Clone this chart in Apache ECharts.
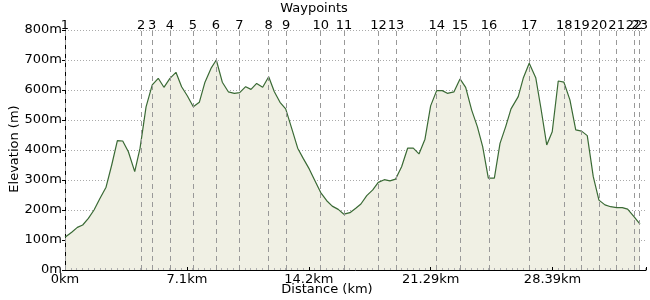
<!DOCTYPE html>
<html>
<head>
<meta charset="utf-8">
<script src="https://cdn.jsdelivr.net/npm/echarts@6/dist/echarts.min.js"></script>
<style>
  html, body { margin: 0; padding: 0; background: #fff; }
  #chart { width: 650px; height: 300px; }
</style>
</head>
<body>
<div id="chart"></div>
<script>
// elevation profile
var distKm = [0, 0.39, 0.72, 1.03, 1.36, 1.69, 2.04, 2.39, 2.72, 3.05, 3.36, 3.69, 4.06, 4.37, 4.72,
	5.08, 5.43, 5.76, 6.11, 6.46, 6.79, 7.12, 7.47, 7.82, 8.15, 8.50, 8.81, 9.16, 9.51, 9.86,
	10.17, 10.52, 10.83, 11.16, 11.51, 11.86, 12.19, 12.52, 12.85, 13.20, 13.55, 13.87, 14.22,
	14.56, 14.89, 15.24, 15.56, 15.91, 16.24, 16.59, 16.93, 17.23, 17.57, 17.92, 18.24, 18.59,
	18.92, 19.25, 19.60, 19.95, 20.28, 20.61, 20.96, 21.29, 21.64, 21.97, 22.26, 22.65, 23.00,
	23.33, 23.68, 24.01, 24.32, 24.65, 25.00, 25.33, 25.66, 25.97, 26.39, 26.68, 27.03, 27.41,
	27.71, 28.05, 28.37, 28.72, 29.05, 29.40, 29.74, 30.08, 30.41, 30.76, 31.09, 31.44, 31.77,
	32.12, 32.45, 32.76, 33.13, 33.48];
var elevM = [109, 126, 142, 150, 172, 200, 239, 276, 350, 431, 430, 394, 328, 406, 544,
	617, 639, 609, 639, 659, 611, 581, 544, 559, 626, 672, 700, 626, 594, 589,
	591, 611, 602, 622, 609, 644, 594, 559, 537, 472, 406, 372, 337,
	297, 258, 231, 213, 202, 186, 191, 206, 220, 248, 267, 292, 301,
	297, 303, 344, 406, 406, 387, 436, 547, 598, 598, 589, 594, 637,
	609, 533, 478, 411, 306, 306, 422, 478, 537, 578, 639, 689, 641,
	540, 417, 461, 630, 626, 567, 467, 463, 448, 311, 233, 217, 211,
	208, 208, 203, 178, 153];

var waypointKm = [0, 4.43, 5.08, 6.11, 7.44, 8.79, 10.15, 11.86, 12.87, 14.89, 16.24, 18.26,
	19.27, 21.64, 23.00, 24.69, 27.03, 29.07, 30.08, 31.09, 32.12, 33.13, 33.46];
var waypointNames = ['1', '2', '3', '4', '5', '6', '7', '8', '9', '10', '11', '12',
	'13', '14', '15', '16', '17', '18', '19', '20', '21', '22', '23'];

var xTickLabels = ['0km', '7.1km', '14.2km', '21.29km', '28.39km'];
var xTickStep = 7.0975;

var FONT = 'DejaVu Sans';

var chart = echarts.init(document.getElementById('chart'));

var profile = distKm.map(function (d, i) { return [d, elevM[i]]; });
var marks = waypointKm.map(function (km, i) {
	return { xAxis: km, name: waypointNames[i] };
});

var option = {
	animation: false,
	grid: { left: 65, top: 30, width: 581, height: 240 },
	graphic: [
		{ type: 'text', x: 314, y: 9, style: { text: 'Waypoints', font: '13px "DejaVu Sans"', fill: '#000', textAlign: 'center', textVerticalAlign: 'middle' } },
		{ type: 'text', x: 327, y: 290, style: { text: 'Distance (km)', font: '13px "DejaVu Sans"', fill: '#000', textAlign: 'center', textVerticalAlign: 'middle' } },
		{ type: 'text', x: 15, y: 149, rotation: Math.PI / 2, style: { text: 'Elevation (m)', font: '13px "DejaVu Sans"', fill: '#000', textAlign: 'center', textVerticalAlign: 'middle' } }
	],
	xAxis: {
		type: 'value',
		min: 0,
		max: 33.83,
		interval: xTickStep,
		z: 3,
		axisLine: { lineStyle: { color: '#000', width: 1 } },
		axisTick: { show: true, length: 3, inside: true, lineStyle: { color: '#000' } },
		minorTick: { show: true, splitNumber: 21, length: 2, lineStyle: { color: '#b0b0b0' } },
		splitLine: { show: false },
		axisLabel: {
			margin: 3,
			showMaxLabel: false,
			fontFamily: FONT, fontSize: 13, color: '#000',
			formatter: function (v) {
				var i = Math.round(v / xTickStep);
				if (Math.abs(v - i * xTickStep) < 0.01 && xTickLabels[i]) return xTickLabels[i];
				return '';
			}
		}
	},
	yAxis: {
		type: 'value',
		min: 0,
		max: 800,
		interval: 100,
		z: 3,
		axisLine: { show: true, lineStyle: { color: '#000', width: 1 } },
		axisTick: { show: true, length: 3, lineStyle: { color: '#000' } },
		splitLine: { show: true, lineStyle: { color: '#aaa', type: [1, 2], width: 1 } },
		axisLabel: {
			margin: 3,
			fontFamily: FONT, fontSize: 13, color: '#000',
			formatter: '{value}m'
		}
	},
	series: [{
		type: 'line',
		data: profile,
		symbol: 'none',
		lineStyle: { color: '#3a6a35', width: 1.2 },
		areaStyle: { color: '#f0f0e4', opacity: 1 },
		markLine: {
			silent: true,
			symbol: 'none',
			animation: false,
			lineStyle: { color: '#999', type: [5, 4], width: 1 },
			label: {
				position: 'end',
				distance: -2,
				formatter: '{b}',
				fontFamily: FONT, fontSize: 13, color: '#000'
			},
			data: marks
		}
	}]
};

chart.setOption(option);
</script>
</body>
</html>
